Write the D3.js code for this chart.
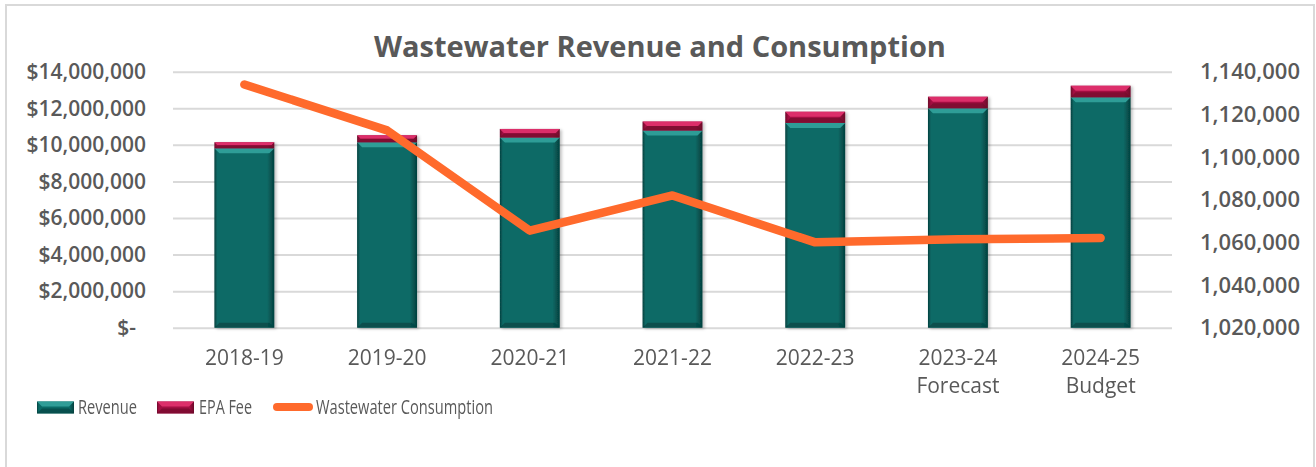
<!DOCTYPE html>
<html>
<head>
<meta charset="utf-8">
<script src="https://cdn.jsdelivr.net/npm/d3@7"></script>
<style>
	html, body { margin: 0; padding: 0; background: #ffffff; }
	svg { display: block; }
	.ytick { font-family: "Open Sans", sans-serif; font-weight: 600; fill: #595959; }
	.xtick { font-family: "Open Sans", sans-serif; fill: #595959; }
	.legendText { font-family: "Open Sans", sans-serif; fill: #595959; }
</style>
</head>
<body>
<svg width="1316" height="467"></svg>
<script>
// data
var categories = ['2018-19', '2019-20', '2020-21', '2021-22', '2022-23', '2023-24', '2024-25'];
var subLabels = ['', '', '', '', '', 'Forecast', 'Budget'];
var revenue = [9810000, 10140000, 10400000, 10780000, 11200000, 12000000, 12600000];
var epaFee = [330000, 380000, 470000, 490000, 610000, 630000, 630000];
var consumption = [1134000, 1112500, 1065500, 1082000, 1060000, 1061500, 1062000];
var leftTicks = [0, 2000000, 4000000, 6000000, 8000000, 10000000, 12000000, 14000000];
var rightTicks = [1020000, 1040000, 1060000, 1080000, 1100000, 1120000, 1140000];
var seriesNames = ['Revenue', 'EPA Fee', 'Wastewater Consumption'];

window.chart = {
	left: 173,
	right: 1172,
	top: 71.7,
	bottom: 327.7
};

chart.colors = {
	teal: '#0a6a66',
	tealLight: '#2f9d97',
	tealDark: '#053f3d',
	epa: '#a30f42',
	epaLight: '#dc2f6a',
	epaDark: '#6a0828',
	line: '#ff6a2c',
	grid: '#d9d9d9'
};

chart.make = function(){

	var svg = d3.select('svg');

	chart.x = d3.scaleBand()
		.domain(categories)
		.range([chart.left, chart.right])
		.paddingInner(0.58)
		.paddingOuter(0.29);

	chart.yL = d3.scaleLinear().domain([0, 14000000]).range([chart.bottom, chart.top]);
	chart.yR = d3.scaleLinear().domain([1020000, 1140000]).range([chart.bottom, chart.top]);

	chart.defs(svg);

	//frame
	svg.append('rect')
		.attr('x', 6).attr('y', 5)
		.attr('width', 1308).attr('height', 480)
		.attr('fill', 'none')
		.attr('stroke', '#d9d9d9')
		.attr('stroke-width', 2);

	//title
	svg.append('text')
		.text('Wastewater Revenue and Consumption')
		.attr('x', 660)
		.attr('y', 57)
		.attr('text-anchor', 'middle')
		.style('font-family', '"Open Sans", sans-serif')
		.style('font-weight', 700)
		.style('font-size', '29px')
		.style('fill', '#595959');

	//grid + left axis
	var money = function(d){ return d === 0 ? '$-' : '$' + d3.format(',')(d); };

	var gl = svg.append('g')
		.attr('transform', 'translate(' + chart.left + ',0)')
		.call(d3.axisLeft(chart.yL)
			.tickValues(leftTicks)
			.tickFormat(money)
			.tickSize(-(chart.right - chart.left))
			.tickPadding(27));
	gl.select('.domain').remove();
	gl.selectAll('.tick line').attr('stroke', chart.colors.grid).attr('stroke-width', 2);
	gl.selectAll('.tick text')
		.attr('class', 'ytick')
		.style('font-size', '21px')
		.attr('dx', function(d){ return d === 0 ? -10 : 0; });

	//right axis
	var gr = svg.append('g')
		.attr('transform', 'translate(' + chart.right + ',0)')
		.call(d3.axisRight(chart.yR)
			.tickValues(rightTicks)
			.tickFormat(d3.format(','))
			.tickSize(0)
			.tickPadding(28));
	gr.select('.domain').remove();
	gr.selectAll('.tick text')
		.attr('class', 'ytick')
		.style('font-size', '22px');

	//bars
	var bars = svg.append('g').attr('filter', 'url(#shadow)');
	categories.forEach(function(c, i){
		var x0 = chart.x(c);
		var w = chart.x.bandwidth();
		chart.segment(bars, x0, w, chart.yL(revenue[i]), chart.yL(0), 'teal');
		chart.segment(bars, x0, w, chart.yL(revenue[i] + epaFee[i]), chart.yL(revenue[i]), 'epa');
	});

	//x labels
	var xl = svg.append('g');
	categories.forEach(function(c, i){
		var t = xl.append('text')
			.attr('class', 'xtick')
			.attr('x', chart.x(c) + chart.x.bandwidth() / 2)
			.attr('y', 365)
			.attr('text-anchor', 'middle')
			.style('font-size', '21px');
		t.append('tspan').text(c);
		if(subLabels[i]){
			t.append('tspan')
				.attr('x', chart.x(c) + chart.x.bandwidth() / 2)
				.attr('dy', 28)
				.text(subLabels[i]);
		}
	});

	//consumption line
	var line = d3.line()
		.x(function(d, i){ return chart.x(categories[i]) + chart.x.bandwidth() / 2; })
		.y(function(d){ return chart.yR(d); });

	svg.append('path')
		.datum(consumption)
		.attr('d', line)
		.attr('fill', 'none')
		.attr('stroke', chart.colors.line)
		.attr('stroke-width', 8.5)
		.attr('stroke-linecap', 'round')
		.attr('stroke-linejoin', 'round');

	chart.legend(svg);
};

chart.defs = function(svg){
	var defs = svg.append('defs');

	var f = defs.append('filter').attr('id', 'shadow')
		.attr('x', '-20%').attr('y', '-20%').attr('width', '140%').attr('height', '140%');
	f.append('feDropShadow')
		.attr('dx', 2).attr('dy', 1)
		.attr('stdDeviation', 1.5)
		.attr('flood-color', '#000')
		.attr('flood-opacity', 0.25);

	['teal', 'epa'].forEach(function(k){
		var g = defs.append('linearGradient').attr('id', k + 'Side')
			.attr('x1', 0).attr('x2', 1).attr('y1', 0).attr('y2', 0);
		g.append('stop').attr('offset', '0%').attr('stop-color', chart.colors[k + 'Dark']);
		g.append('stop').attr('offset', '5%').attr('stop-color', chart.colors[k]);
		g.append('stop').attr('offset', '88%').attr('stop-color', chart.colors[k]);
		g.append('stop').attr('offset', '100%').attr('stop-color', chart.colors[k + 'Dark']);
	});
};

//one stacked piece with a bevelled top
chart.segment = function(g, x0, w, yTop, yBot, k){
	var h = yBot - yTop;
	if(h <= 0) return;
	var b = Math.min(5, h / 2);

	g.append('rect')
		.attr('x', x0).attr('y', yTop)
		.attr('width', w).attr('height', h)
		.attr('fill', 'url(#' + k + 'Side)');

	g.append('polygon')
		.attr('points', [
			[x0, yTop], [x0 + w, yTop], [x0 + w - b, yTop + b], [x0 + b, yTop + b]
		].join(' '))
		.attr('fill', chart.colors[k + 'Light']);

	g.append('polygon')
		.attr('points', [
			[x0, yBot], [x0 + w, yBot], [x0 + w - b, yBot - b], [x0 + b, yBot - b]
		].join(' '))
		.attr('fill', chart.colors[k + 'Dark'])
		.attr('opacity', 0.6);
};

chart.legend = function(svg){
	var lg = svg.append('g');
	var items = [
		{ name: seriesNames[0], key: 'teal', x: 37, tx: 78, tw: 59 },
		{ name: seriesNames[1], key: 'epa', x: 157, tx: 199, tw: 53 },
		{ name: seriesNames[2], key: 'line', x: 277, tx: 316, tw: 177 }
	];

	items.forEach(function(it){
		if(it.key === 'line'){
			lg.append('line')
				.attr('x1', it.x).attr('x2', it.x + 32)
				.attr('y1', 407).attr('y2', 407)
				.attr('stroke', chart.colors.line)
				.attr('stroke-width', 8)
				.attr('stroke-linecap', 'round');
		} else {
			chart.segment(lg, it.x, 37, 401.5, 413.5, it.key);
		}
		lg.append('text')
			.attr('class', 'legendText')
			.attr('x', it.tx)
			.attr('y', 414)
			.attr('textLength', it.tw)
			.attr('lengthAdjust', 'spacingAndGlyphs')
			.style('font-size', '20px')
			.text(it.name);
	});
};

chart.make();
</script>
</body>
</html>
